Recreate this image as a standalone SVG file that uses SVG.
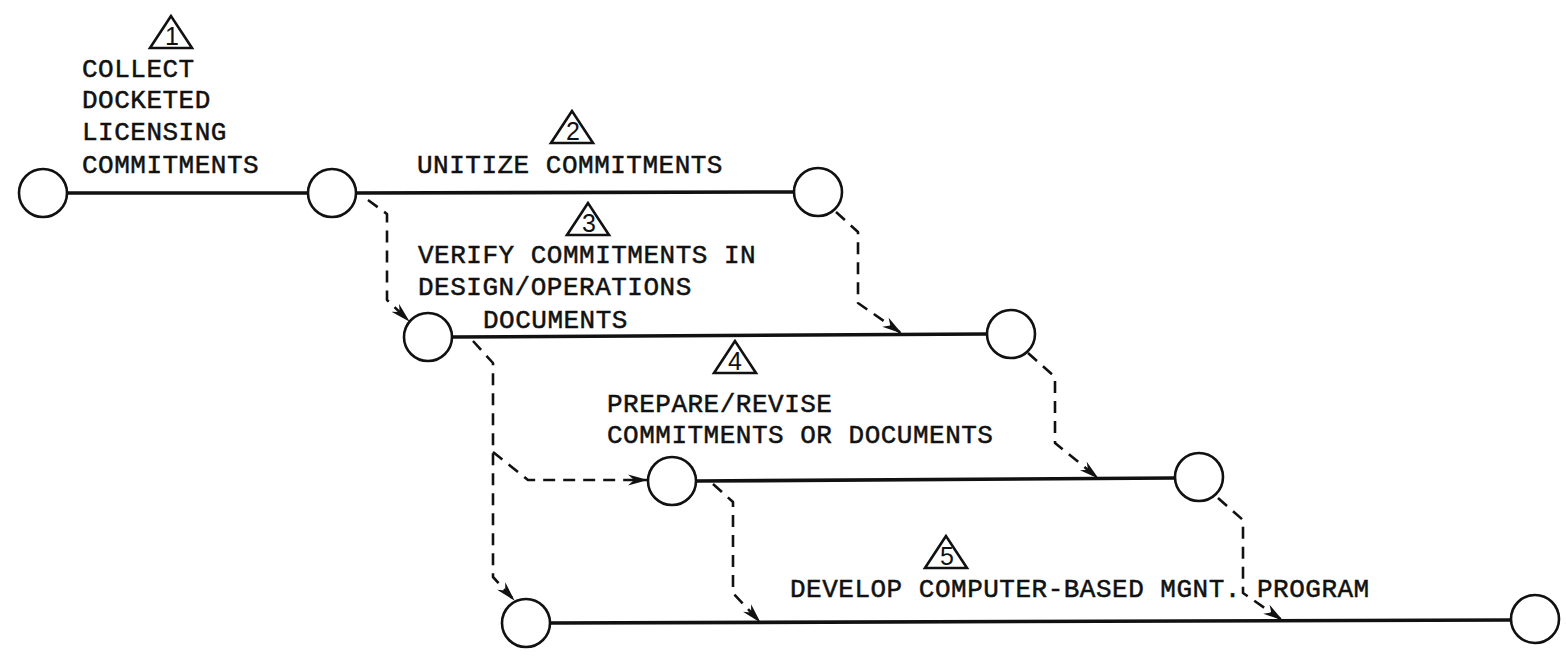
<svg xmlns="http://www.w3.org/2000/svg" width="1566" height="656" viewBox="0 0 1566 656">
  <style>
    .evt { fill: #fff; stroke: #111; stroke-width: 2.6; }
    .act { fill: none; stroke: #111; stroke-width: 3.6; stroke-linecap: round; }
    .dep { fill: none; stroke: #111; stroke-width: 2.6; stroke-dasharray: 12 8; stroke-linejoin: round; marker-end: url(#head); }
    .lbl { font-family: "Liberation Mono", "DejaVu Sans Mono", monospace; font-size: 26px; letter-spacing: 0.5px; fill: #111; stroke: #111; stroke-width: 0.5; }
    .tri { fill: #fff; stroke: #111; stroke-width: 2.6; stroke-linejoin: miter; }
    .num { font-family: "Liberation Sans", Arial, sans-serif; font-size: 25px; fill: #111; text-anchor: middle; }
  </style>
  <defs>
    <marker id="head" viewBox="0 0 20 12" refX="19" refY="6" markerWidth="20" markerHeight="12" markerUnits="userSpaceOnUse" orient="auto">
      <path d="M0,0.5 L20,6 L0,11.5 L6,6 z" fill="#111"/>
    </marker>
    <path id="triangle" d="M0,-32 L-21,0 L21,0 z"/>
  </defs>

  <rect width="1566" height="656" fill="#fff"/>

  <!-- activity lines and dependency connectors -->
  <g id="connectors">
    <line class="act" x1="68" y1="193" x2="308" y2="193"/>
    <line class="act" x1="356" y1="193" x2="794" y2="192"/>
    <line class="act" x1="453" y1="337" x2="987" y2="334"/>
    <line class="act" x1="697" y1="481" x2="1175" y2="478"/>
    <line class="act" x1="550" y1="623" x2="1511" y2="620"/>

    <path class="dep" d="M368,200 L387,214 L387,300 L409,321"/>
    <path class="dep" d="M836,212 L858,232 L858,303 L901,333"/>
    <path class="dep" d="M473,341 L493,363 L493,577 L514,600"/>
    <path class="dep" d="M493,452 L528,480 L647,480"/>
    <path class="dep" d="M713,484 L733,502 L733,593 L760,622"/>
    <path class="dep" d="M1028,353 L1055,377 L1055,443 L1098,478"/>
    <path class="dep" d="M1218,498 L1243,520 L1243,593 L1282,620"/>
  </g>

  <!-- events -->
  <g id="event-1"><circle class="evt" cx="43" cy="193" r="24"/></g>
  <g id="event-2"><circle class="evt" cx="332" cy="193" r="24"/></g>
  <g id="event-3"><circle class="evt" cx="818" cy="192" r="24"/></g>
  <g id="event-4"><circle class="evt" cx="428" cy="337" r="24"/></g>
  <g id="event-5"><circle class="evt" cx="1011" cy="334" r="24"/></g>
  <g id="event-6"><circle class="evt" cx="672" cy="481" r="24"/></g>
  <g id="event-7"><circle class="evt" cx="1199" cy="477" r="24"/></g>
  <g id="event-8"><circle class="evt" cx="526" cy="623" r="24"/></g>
  <g id="event-9"><circle class="evt" cx="1535" cy="619" r="24"/></g>

  <!-- activity labels -->
  <g id="activity-1">
    <use href="#triangle" class="tri" x="171" y="48"/>
    <text class="num" x="172" y="45">1</text>
    <text class="lbl" x="82" y="77">COLLECT</text>
    <text class="lbl" x="82" y="108">DOCKETED</text>
    <text class="lbl" x="82" y="140">LICENSING</text>
    <text class="lbl" x="82" y="173">COMMITMENTS</text>
  </g>
  <g id="activity-2">
    <use href="#triangle" class="tri" x="572" y="143"/>
    <text class="num" x="573" y="140">2</text>
    <text class="lbl" x="417" y="173">UNITIZE COMMITMENTS</text>
  </g>
  <g id="activity-3">
    <use href="#triangle" class="tri" x="588" y="235"/>
    <text class="num" x="589" y="232">3</text>
    <text class="lbl" x="418" y="263">VERIFY COMMITMENTS IN</text>
    <text class="lbl" x="418" y="295">DESIGN/OPERATIONS</text>
    <text class="lbl" x="483" y="328">DOCUMENTS</text>
  </g>
  <g id="activity-4">
    <use href="#triangle" class="tri" x="735" y="373"/>
    <text class="num" x="735" y="370">4</text>
    <text class="lbl" x="607" y="412">PREPARE/REVISE</text>
    <text class="lbl" x="607" y="443">COMMITMENTS OR DOCUMENTS</text>
  </g>
  <g id="activity-5">
    <use href="#triangle" class="tri" x="946" y="568"/>
    <text class="num" x="947" y="565">5</text>
    <text class="lbl" x="790" y="597">DEVELOP COMPUTER-BASED MGNT. PROGRAM</text>
  </g>
</svg>
